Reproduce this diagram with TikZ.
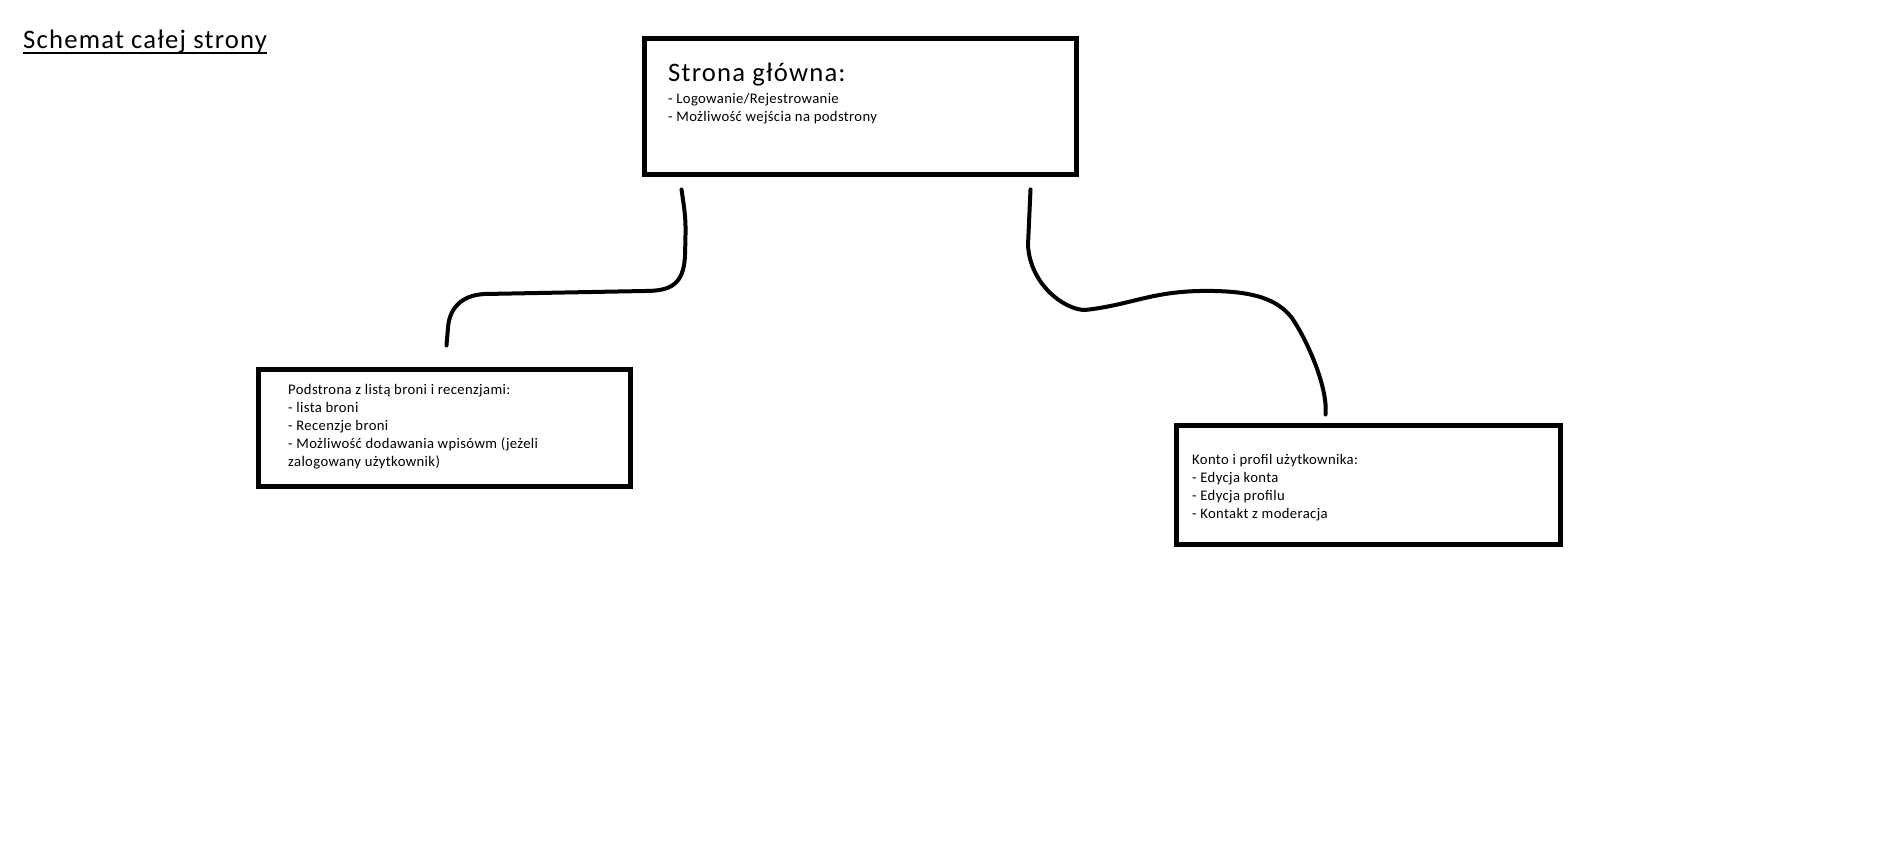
\documentclass[tikz,border=0pt]{standalone}
\usepackage{fontspec}
\setmainfont{Carlito}
\begin{document}
\begin{tikzpicture}[x=1pt,y=-1pt,
  box/.style={draw, line width=5pt, rectangle, inner sep=0pt},
  conn/.style={line width=4pt, line cap=round, line join=round},
  small/.style={font=\fontsize{14.67}{18}\selectfont\addfontfeatures{LetterSpace=2.5}, align=left, inner sep=0pt, anchor=north west},
  big/.style={font=\fontsize{26.67}{32}\selectfont\addfontfeatures{LetterSpace=4.5}, inner sep=0pt, anchor=base west}]
\useasboundingbox (0,0) rectangle (1901,858);
% title
\node[big] (title) at (23,49) {Schemat całej strony};
\draw[line width=2pt] ([yshift=-4pt]title.base west) -- ([yshift=-4pt]title.base east);
% boxes
\node[box, minimum width=432pt, minimum height=136pt] (main) at (860.5,106.5) {};
\node[box, minimum width=372pt, minimum height=117pt] (lbox) at (444.5,428) {};
\node[box, minimum width=384pt, minimum height=119pt] (rbox) at (1368.5,485) {};
% texts
\node[big] (mainhead) at (668,82) {Strona główna:};
\node[small] (mainlist) at (668,93) {- Logowanie/Rejestrowanie\\- Możliwość wejścia na podstrony};
\node[small] (ltext) at (288,384.5) {Podstrona z listą broni i recenzjami:\\- lista broni\\- Recenzje broni\\- Możliwość dodawania wpisówm (jeżeli\\zalogowany użytkownik)};
\node[small] (rtext) at (1192,454.5) {Konto i profil użytkownika:\\- Edycja konta\\- Edycja profilu\\- Kontakt z moderacja};
% connector ends
\coordinate (ls) at ([xshift=39.5pt,yshift=-12.5pt]main.south west);
\coordinate (le) at ([xshift=190.5pt,yshift=21.5pt]lbox.north west);
\coordinate (rs) at ([xshift=-48.5pt,yshift=-12.5pt]main.south east);
\coordinate (re) at ([xshift=151.5pt,yshift=8.5pt]rbox.north west);
% connectors
\draw[conn] (ls) .. controls (686,220) .. (685,255)
  .. controls (684,285) and (670,291) .. (645,291)
  -- (485,294)
  .. controls (460,295) and (449,310) .. (448,328)
  -- (le);
\draw[conn] (rs) -- (1028,245)
  .. controls (1030,285) and (1065,310) .. (1085,310)
  .. controls (1130,305) and (1150,292) .. (1200,291)
  .. controls (1255,290) and (1278,300) .. (1292,318)
  .. controls (1310,345) and (1328,390) .. (re);
\end{tikzpicture}
\end{document}
